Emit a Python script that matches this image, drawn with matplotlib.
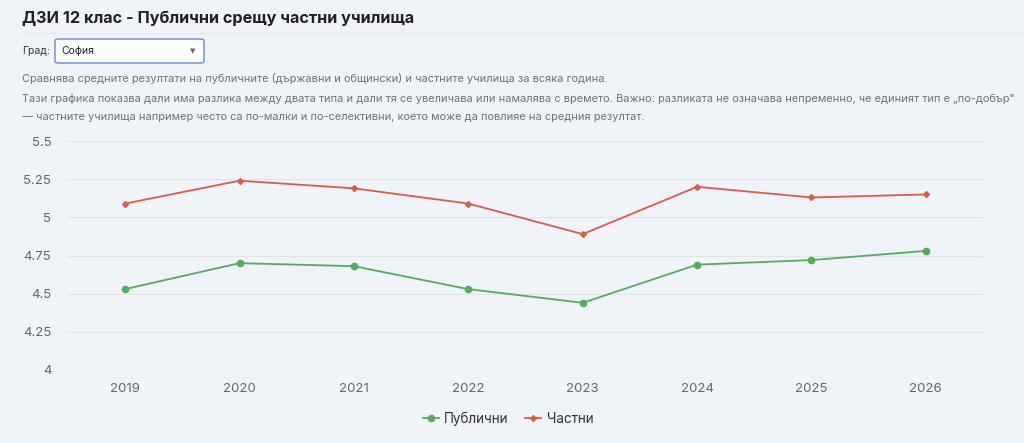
import matplotlib.pyplot as plt
from matplotlib.patches import FancyBboxPatch
from matplotlib.lines import Line2D

# data
years = ['2019', '2020', '2021', '2022', '2023', '2024', '2025', '2026']
public = [4.53, 4.70, 4.68, 4.53, 4.44, 4.69, 4.72, 4.78]
private = [5.09, 5.24, 5.19, 5.09, 4.89, 5.20, 5.13, 5.15]
yticks = [4, 4.25, 4.5, 4.75, 5, 5.25, 5.5]
ytick_labels = ['4', '4.25', '4.5', '4.75', '5', '5.25', '5.5']

bg = '#f0f4f9'
green = '#55ad5c'
red = '#dc5b46'
plt.rcParams['font.family'] = ['Inter', 'DejaVu Sans']

fig = plt.figure(figsize=(10.24, 4.43), dpi=100, facecolor=bg)
W, H = 1024, 443

def fx(px):
    return px / W

def fy(py):
    return 1 - py / H

# header
fig.text(fx(22), fy(18), 'ДЗИ 12 клас - Публични срещу частни училища',
         fontsize=11.7, fontweight='bold', color='#222222', va='center')
fig.add_artist(Line2D([fx(22), fx(1024)], [fy(33), fy(33)], color='#e4e8ed', lw=0.8))

fig.text(fx(22), fy(51), 'Град:', fontsize=7.5, color='#333333', va='center')
box = FancyBboxPatch((fx(55), fy(63)), fx(149), 24 / H,
                     boxstyle='round,pad=0,rounding_size=0.004',
                     transform=fig.transFigure, facecolor='white',
                     edgecolor='#6b86d6', lw=1.0)
fig.add_artist(box)
fig.text(fx(61), fy(51), 'София', fontsize=7.5, color='#222222', va='center')
fig.text(fx(193), fy(51), '▼', fontsize=5, color='#666666', va='center', ha='center',
         family=['DejaVu Sans'])

desc_color = '#6f7378'
fig.text(fx(22), fy(79), 'Сравнява средните резултати на публичните (държавни и общински) '
         'и частните училища за всяка година.', fontsize=7.95, color=desc_color, va='center')
fig.text(fx(22), fy(99), 'Тази графика показва дали има разлика между двата типа и дали тя се '
         'увеличава или намалява с времето. Важно: разликата не означава непременно, '
         'че единият тип е „по-добър"', fontsize=7.95, color=desc_color, va='center')
fig.text(fx(22), fy(117), '— частните училища например често са по-малки и по-селективни, '
         'което може да повлияе на средния резултат.', fontsize=7.95, color=desc_color, va='center')

# chart
ax = fig.add_axes([fx(68), fy(370), fx(983 - 68), (370 - 141) / H])
ax.set_facecolor(bg)
x = range(len(years))
ax.plot(x, public, color=green, lw=1.3, marker='o', ms=4.5, label='Публични')
ax.plot(x, private, color=red, lw=1.3, marker='D', ms=3, label='Частни')

ax.set_xlim(-0.5, len(years) - 0.5)
ax.set_ylim(4, 5.5)
ax.set_yticks(yticks)
ax.set_yticklabels(ytick_labels)
ax.set_xticks(list(x))
ax.set_xticklabels(years)
ax.grid(axis='y', color='#e0e4e9', lw=0.8)
ax.set_axisbelow(True)
for s in ax.spines.values():
    s.set_visible(False)
ax.tick_params(length=0, colors='#666666', labelsize=9.5)
ax.tick_params(axis='y', pad=12)
ax.tick_params(axis='x', pad=9)

leg = fig.legend(loc='center', bbox_to_anchor=(fx(508), fy(419)), ncol=2, frameon=False,
                 fontsize=9.7, handlelength=1.2, columnspacing=1.2, handletextpad=0.4)
for t in leg.get_texts():
    t.set_color('#333333')

fig.savefig('out.png', dpi=100, facecolor=bg)
